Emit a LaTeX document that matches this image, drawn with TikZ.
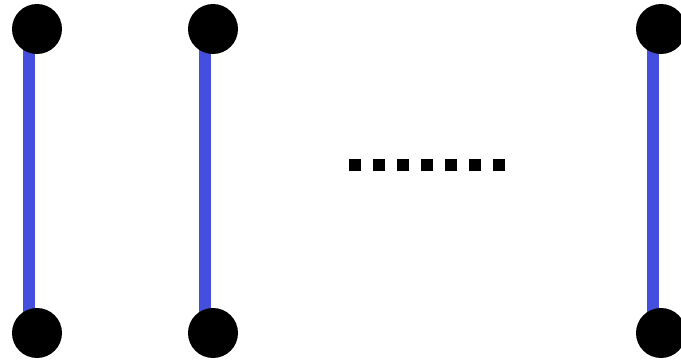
\documentclass[tikz,border=0pt]{standalone}
\usetikzlibrary{backgrounds}
\begin{document}
\begin{tikzpicture}[x=1pt,y=-1pt,
  vertex/.style={circle, fill=black, minimum size=50pt, inner sep=0pt},
  edge/.style={line width=12pt, color=edgeblue}]
\definecolor{edgeblue}{RGB}{68,80,221}
\useasboundingbox (0,0) rectangle (681,361);

% Vertices
\node[vertex] (t1) at (37,29) {};
\node[vertex] (b1) at (37,333) {};
\node[vertex] (t2) at (213,29) {};
\node[vertex] (b2) at (213,333) {};
\node[vertex] (tn) at (661,29) {};
\node[vertex] (bn) at (661,333) {};

% Edges (behind the vertices)
\begin{scope}[on background layer]
\draw[edge] ([xshift=-8pt]t1.center) -- ([xshift=-8pt]b1.center);
\draw[edge] ([xshift=-8pt]t2.center) -- ([xshift=-8pt]b2.center);
\draw[edge] ([xshift=-8pt]tn.center) -- ([xshift=-8pt]bn.center);
\end{scope}

% Dots
\coordinate (d0) at (349,165);
\coordinate (d1) at (511,165);
\draw[line width=12pt, dash pattern=on 12pt off 12pt] (d0) -- (d1);
\end{tikzpicture}
\end{document}
